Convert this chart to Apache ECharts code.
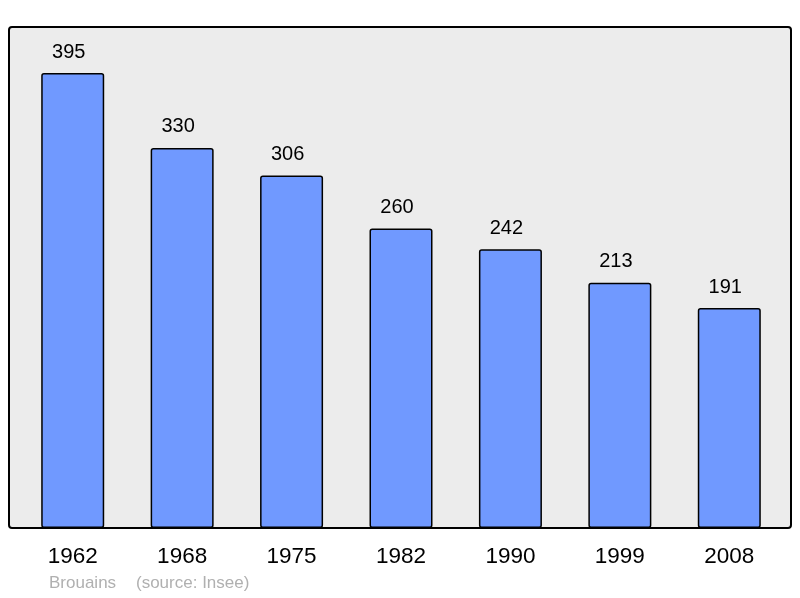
<!DOCTYPE html>
<html>
<head>
<meta charset="utf-8">
<script src="https://cdn.jsdelivr.net/npm/echarts@6/dist/echarts.min.js"></script>
<style>
  html, body { margin: 0; padding: 0; background: #fff; }
  #main { width: 800px; height: 598px; }
</style>
</head>
<body>
<div id="main"></div>
<script>
// population par année
const years = ["1962", "1968", "1975", "1982", "1990", "1999", "2008"];
const population = [395, 330, 306, 260, 242, 213, 191];

const chart = echarts.init(document.getElementById("main"), null, { renderer: "canvas" });

const option = {
  animation: false,
  textStyle: { fontFamily: "Liberation Sans, Arial, sans-serif" },
  grid: { left: 18, right: 16, top: 27, bottom: 70 },
  // cadre gris derrière les barres
  graphic: [
    {
      type: "rect",
      z: 0,
      shape: { x: 9, y: 27, width: 782, height: 501, r: 3 },
      style: { fill: "#ececec", stroke: "#000", lineWidth: 2 }
    },
    {
      type: "text",
      left: 49,
      top: 575,
      style: { text: "Brouains", fill: "#b0b0b0", font: "17px Liberation Sans, Arial, sans-serif" }
    },
    {
      type: "text",
      left: 136,
      top: 575,
      style: { text: "(source: Insee)", fill: "#b0b0b0", font: "17px Liberation Sans, Arial, sans-serif" }
    }
  ],
  xAxis: {
    type: "category",
    data: years,
    axisLine: { show: false },
    axisTick: { show: false },
    axisLabel: { color: "#000", fontSize: 22.5, margin: 17 }
  },
  yAxis: {
    type: "value",
    min: 0,
    max: 435,
    show: false,
    splitLine: { show: false }
  },
  series: [
    {
      type: "bar",
      data: population,
      barWidth: 63,
      z: 2,
      itemStyle: {
        color: "#7099ff",
        borderColor: "#000",
        borderWidth: 1.5,
        borderRadius: 2
      },
      label: {
        show: true,
        position: "top",
        distance: 11,
        offset: [-4, 0],
        color: "#000",
        fontSize: 20
      }
    }
  ]
};

chart.setOption(option);
</script>
</body>
</html>
